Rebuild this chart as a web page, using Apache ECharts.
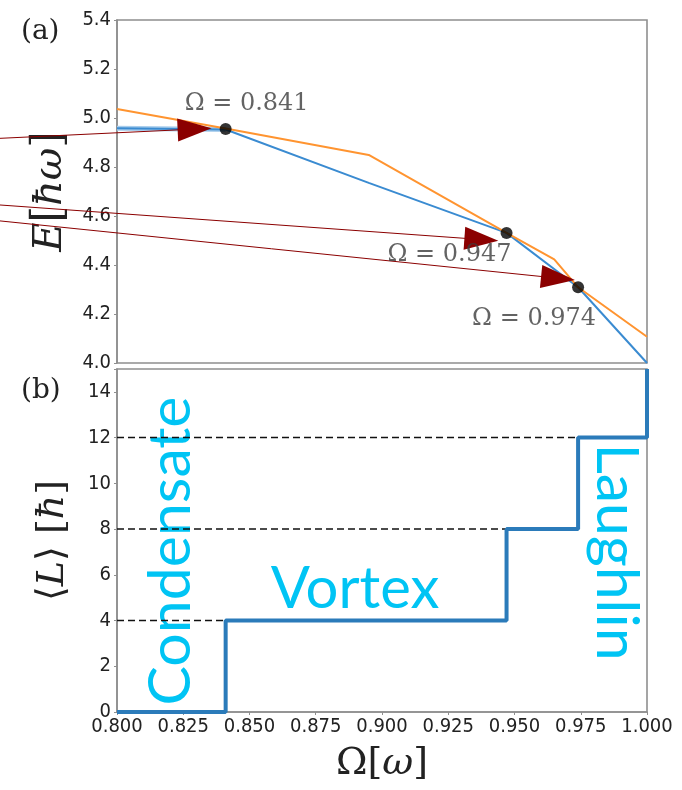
<!DOCTYPE html>
<html>
<head>
<meta charset="utf-8">
<script src="https://cdn.jsdelivr.net/npm/echarts@6/dist/echarts.min.js"></script>
<style>
html,body{margin:0;padding:0;background:#fff;}
#chart{width:682px;height:790px;}
</style>
</head>
<body>
<div id="chart"></div>
<script>
// ---------- data ----------
// Panel (a): energies vs rotation frequency
const omegaBlue = [0.800, 0.841, 0.895, 0.947, 0.974, 1.000];
const energyBlue = [4.958, 4.953, 4.735, 4.531, 4.309, 4.000];
const omegaOrange = [0.800, 0.841, 0.895, 0.947, 0.965, 0.974, 1.000];
const energyOrange = [5.037, 4.957, 4.849, 4.531, 4.423, 4.309, 4.107];
// transition points
const transOmega = [0.841, 0.947, 0.974];
const transEnergy = [4.955, 4.531, 4.309];
const transLabels = ['Ω = 0.841', 'Ω = 0.947', 'Ω = 0.974'];
// arrows (start Ω, start E, tip Ω, tip E)
const arrowStartOmega = [0.7558, 0.7558, 0.7558];
const arrowStartEnergy = [4.917, 4.645, 4.580];
const arrowTipOmega = [0.8357, 0.9439, 0.9728];
const arrowTipEnergy = [4.958, 4.499, 4.339];
// Panel (b): angular momentum steps
const stepOmega = [0.800, 0.841, 0.947, 0.974, 1.000];
const stepL = [0, 4, 8, 12, 15];
const dashLevels = [4, 8, 12];
const dashEnds = [0.841, 0.947, 0.974];
// axis ticks
const xTicks = { min: 0.8, max: 1.0, interval: 0.025 };
const eTicks = { min: 4.0, max: 5.4, interval: 0.2 };
const lTicks = { min: 0, max: 15, interval: 2 };

// ---------- chart ----------
const chart = echarts.init(document.getElementById('chart'), null, { renderer: 'canvas' });
const tickFont = "'DejaVu Sans Condensed', 'Liberation Sans Narrow', 'DejaVu Sans', sans-serif";
const serif = "'DejaVu Serif', 'Liberation Serif', serif";
const gray = '#8f8f8f';
const cyan = '#00c4f4';

const zip = (a, b) => a.map((v, i) => [v, b[i]]);

const labelOffsets = [[21, -25], [-57, 22], [-44, 31]];

const dashSeries = dashLevels.map((lv, i) => ({
  type: 'line', xAxisIndex: 1, yAxisIndex: 1, symbol: 'none', silent: true,
  data: [[xTicks.min, lv], [dashEnds[i], lv]],
  lineStyle: { color: '#111', width: 1.5, type: [7, 4] }, z: 2
}));

const option = {
  animation: false,
  backgroundColor: '#fff',
  grid: [
    { left: 117, top: 20, width: 530, height: 343, show: true, borderColor: gray, borderWidth: 1.6, backgroundColor: 'transparent' },
    { left: 117, top: 369, width: 530, height: 343, show: true, borderColor: gray, borderWidth: 1.6, backgroundColor: 'transparent' }
  ],
  xAxis: [
    { type: 'value', gridIndex: 0, min: xTicks.min, max: xTicks.max, interval: xTicks.interval,
      axisLine: { show: false }, axisTick: { show: false }, axisLabel: { show: false }, splitLine: { show: false } },
    { type: 'value', gridIndex: 1, min: xTicks.min, max: xTicks.max, interval: xTicks.interval,
      axisLine: { show: true, lineStyle: { color: gray, width: 1.6 } },
      axisTick: { show: true, length: 3, lineStyle: { color: gray, width: 1 } },
      axisLabel: { formatter: v => v.toFixed(3), fontFamily: tickFont, fontSize: 20, color: '#222', margin: 5 },
      splitLine: { show: false },
      name: '{r|Ω}{r|[}{i|ω}{r|]}', nameLocation: 'middle', nameGap: 33,
      nameTextStyle: { rich: {
        r: { fontFamily: serif, fontSize: 38, color: '#222' },
        i: { fontFamily: serif, fontSize: 38, fontStyle: 'italic', color: '#222' } } }
    }
  ],
  yAxis: [
    { type: 'value', gridIndex: 0, min: eTicks.min, max: eTicks.max, interval: eTicks.interval,
      axisLine: { show: true, lineStyle: { color: gray, width: 1.6 } },
      axisTick: { show: true, length: 3, lineStyle: { color: gray, width: 1 } },
      axisLabel: { formatter: v => v.toFixed(1), fontFamily: tickFont, fontSize: 20, color: '#222', margin: 6 },
      splitLine: { show: false },
      name: '{i|E}{r|[}{i|ħω}{r|]}', nameLocation: 'middle', nameGap: 45, nameRotate: 90,
      nameTextStyle: { rich: {
        r: { fontFamily: serif, fontSize: 42, color: '#222' },
        i: { fontFamily: serif, fontSize: 40, fontStyle: 'italic', color: '#222' } } }
    },
    { type: 'value', gridIndex: 1, min: lTicks.min, max: lTicks.max, interval: lTicks.interval,
      axisLine: { show: true, lineStyle: { color: gray, width: 1.6 } },
      axisTick: { show: true, length: 3, lineStyle: { color: gray, width: 1 } },
      axisLabel: { formatter: v => (v % 2 === 0 ? String(v) : ''), fontFamily: tickFont, fontSize: 20, color: '#222', margin: 6 },
      splitLine: { show: false },
      name: '{r|⟨}{i|L}{r|⟩ [}{i|ħ}{r|]}', nameLocation: 'middle', nameGap: 45, nameRotate: 90,
      nameTextStyle: { rich: {
        r: { fontFamily: serif, fontSize: 38, color: '#222' },
        i: { fontFamily: serif, fontSize: 38, fontStyle: 'italic', color: '#222' } } }
    }
  ],
  graphic: [
    { type: 'text', left: 21, top: 18, z: 10, style: { text: '(a)', font: "28px 'DejaVu Serif', serif", fill: '#222' } },
    { type: 'text', left: 21, top: 377, z: 10, style: { text: '(b)', font: "28px 'DejaVu Serif', serif", fill: '#222' } },
    { type: 'text', x: 171, y: 551, rotation: Math.PI / 2, z: 1,
      style: { text: 'Condensate', font: "59px Lato, 'Open Sans', sans-serif", fill: cyan, align: 'center', verticalAlign: 'middle' } },
    { type: 'text', x: 355, y: 589, z: 1,
      style: { text: 'Vortex', font: "58px Lato, 'Open Sans', sans-serif", fill: cyan, align: 'center', verticalAlign: 'middle' } },
    { type: 'text', x: 616, y: 552, rotation: -Math.PI / 2, z: 1,
      style: { text: 'Laughlin', font: "59px Lato, 'Open Sans', sans-serif", fill: cyan, align: 'center', verticalAlign: 'middle' } }
  ],
  series: [
    { type: 'line', xAxisIndex: 0, yAxisIndex: 0, symbol: 'none', silent: true,
      data: zip(omegaBlue.slice(0, 2), energyBlue.slice(0, 2)),
      lineStyle: { color: '#a8cdec', width: 5 }, z: 2 },
    { type: 'line', xAxisIndex: 0, yAxisIndex: 0, symbol: 'none', silent: true,
      data: zip(omegaBlue, energyBlue), lineStyle: { color: '#3a8bd1', width: 2 }, z: 3 },
    { type: 'line', xAxisIndex: 0, yAxisIndex: 0, symbol: 'none', silent: true,
      data: zip(omegaOrange, energyOrange), lineStyle: { color: '#ff9430', width: 2 }, z: 4 },
    { type: 'custom', xAxisIndex: 0, yAxisIndex: 0, clip: false, silent: true, z: 5,
      data: arrowStartOmega.map((v, i) => [v, arrowStartEnergy[i], arrowTipOmega[i], arrowTipEnergy[i]]),
      encode: { x: [0, 2], y: [1, 3] },
      renderItem: function (params, api) {
        const s = api.coord([api.value(0), api.value(1)]);
        const e = api.coord([api.value(2), api.value(3)]);
        const dx = e[0] - s[0], dy = e[1] - s[1];
        const len = Math.hypot(dx, dy);
        const ux = dx / len, uy = dy / len;
        const hl = 34, hw = 11.5;
        const b = [e[0] - ux * hl, e[1] - uy * hl];
        return { type: 'group', children: [
          { type: 'line', shape: { x1: s[0], y1: s[1], x2: b[0] + ux * 2, y2: b[1] + uy * 2 },
            style: { stroke: '#8b0000', lineWidth: 1 } },
          { type: 'polygon', shape: { points: [e, [b[0] - uy * hw, b[1] + ux * hw], [b[0] + uy * hw, b[1] - ux * hw]] },
            style: { fill: '#8b0000' } }
        ] };
      }
    },
    { type: 'scatter', xAxisIndex: 0, yAxisIndex: 0, silent: true, z: 6,
      symbolSize: 12, itemStyle: { color: '#000' },
      data: transOmega.map((v, i) => ({
        value: [v, transEnergy[i]],
        label: { show: true, formatter: transLabels[i], position: 'inside', offset: labelOffsets[i],
          fontFamily: serif, fontSize: 24, color: '#3c3c3c' }
      }))
    },
    ...dashSeries,
    { type: 'line', xAxisIndex: 1, yAxisIndex: 1, symbol: 'none', silent: true, step: 'end',
      data: zip(stepOmega, stepL), lineStyle: { color: '#2b7bba', width: 4 }, z: 3 }
  ]
};
chart.setOption(option);
</script>
</body>
</html>
